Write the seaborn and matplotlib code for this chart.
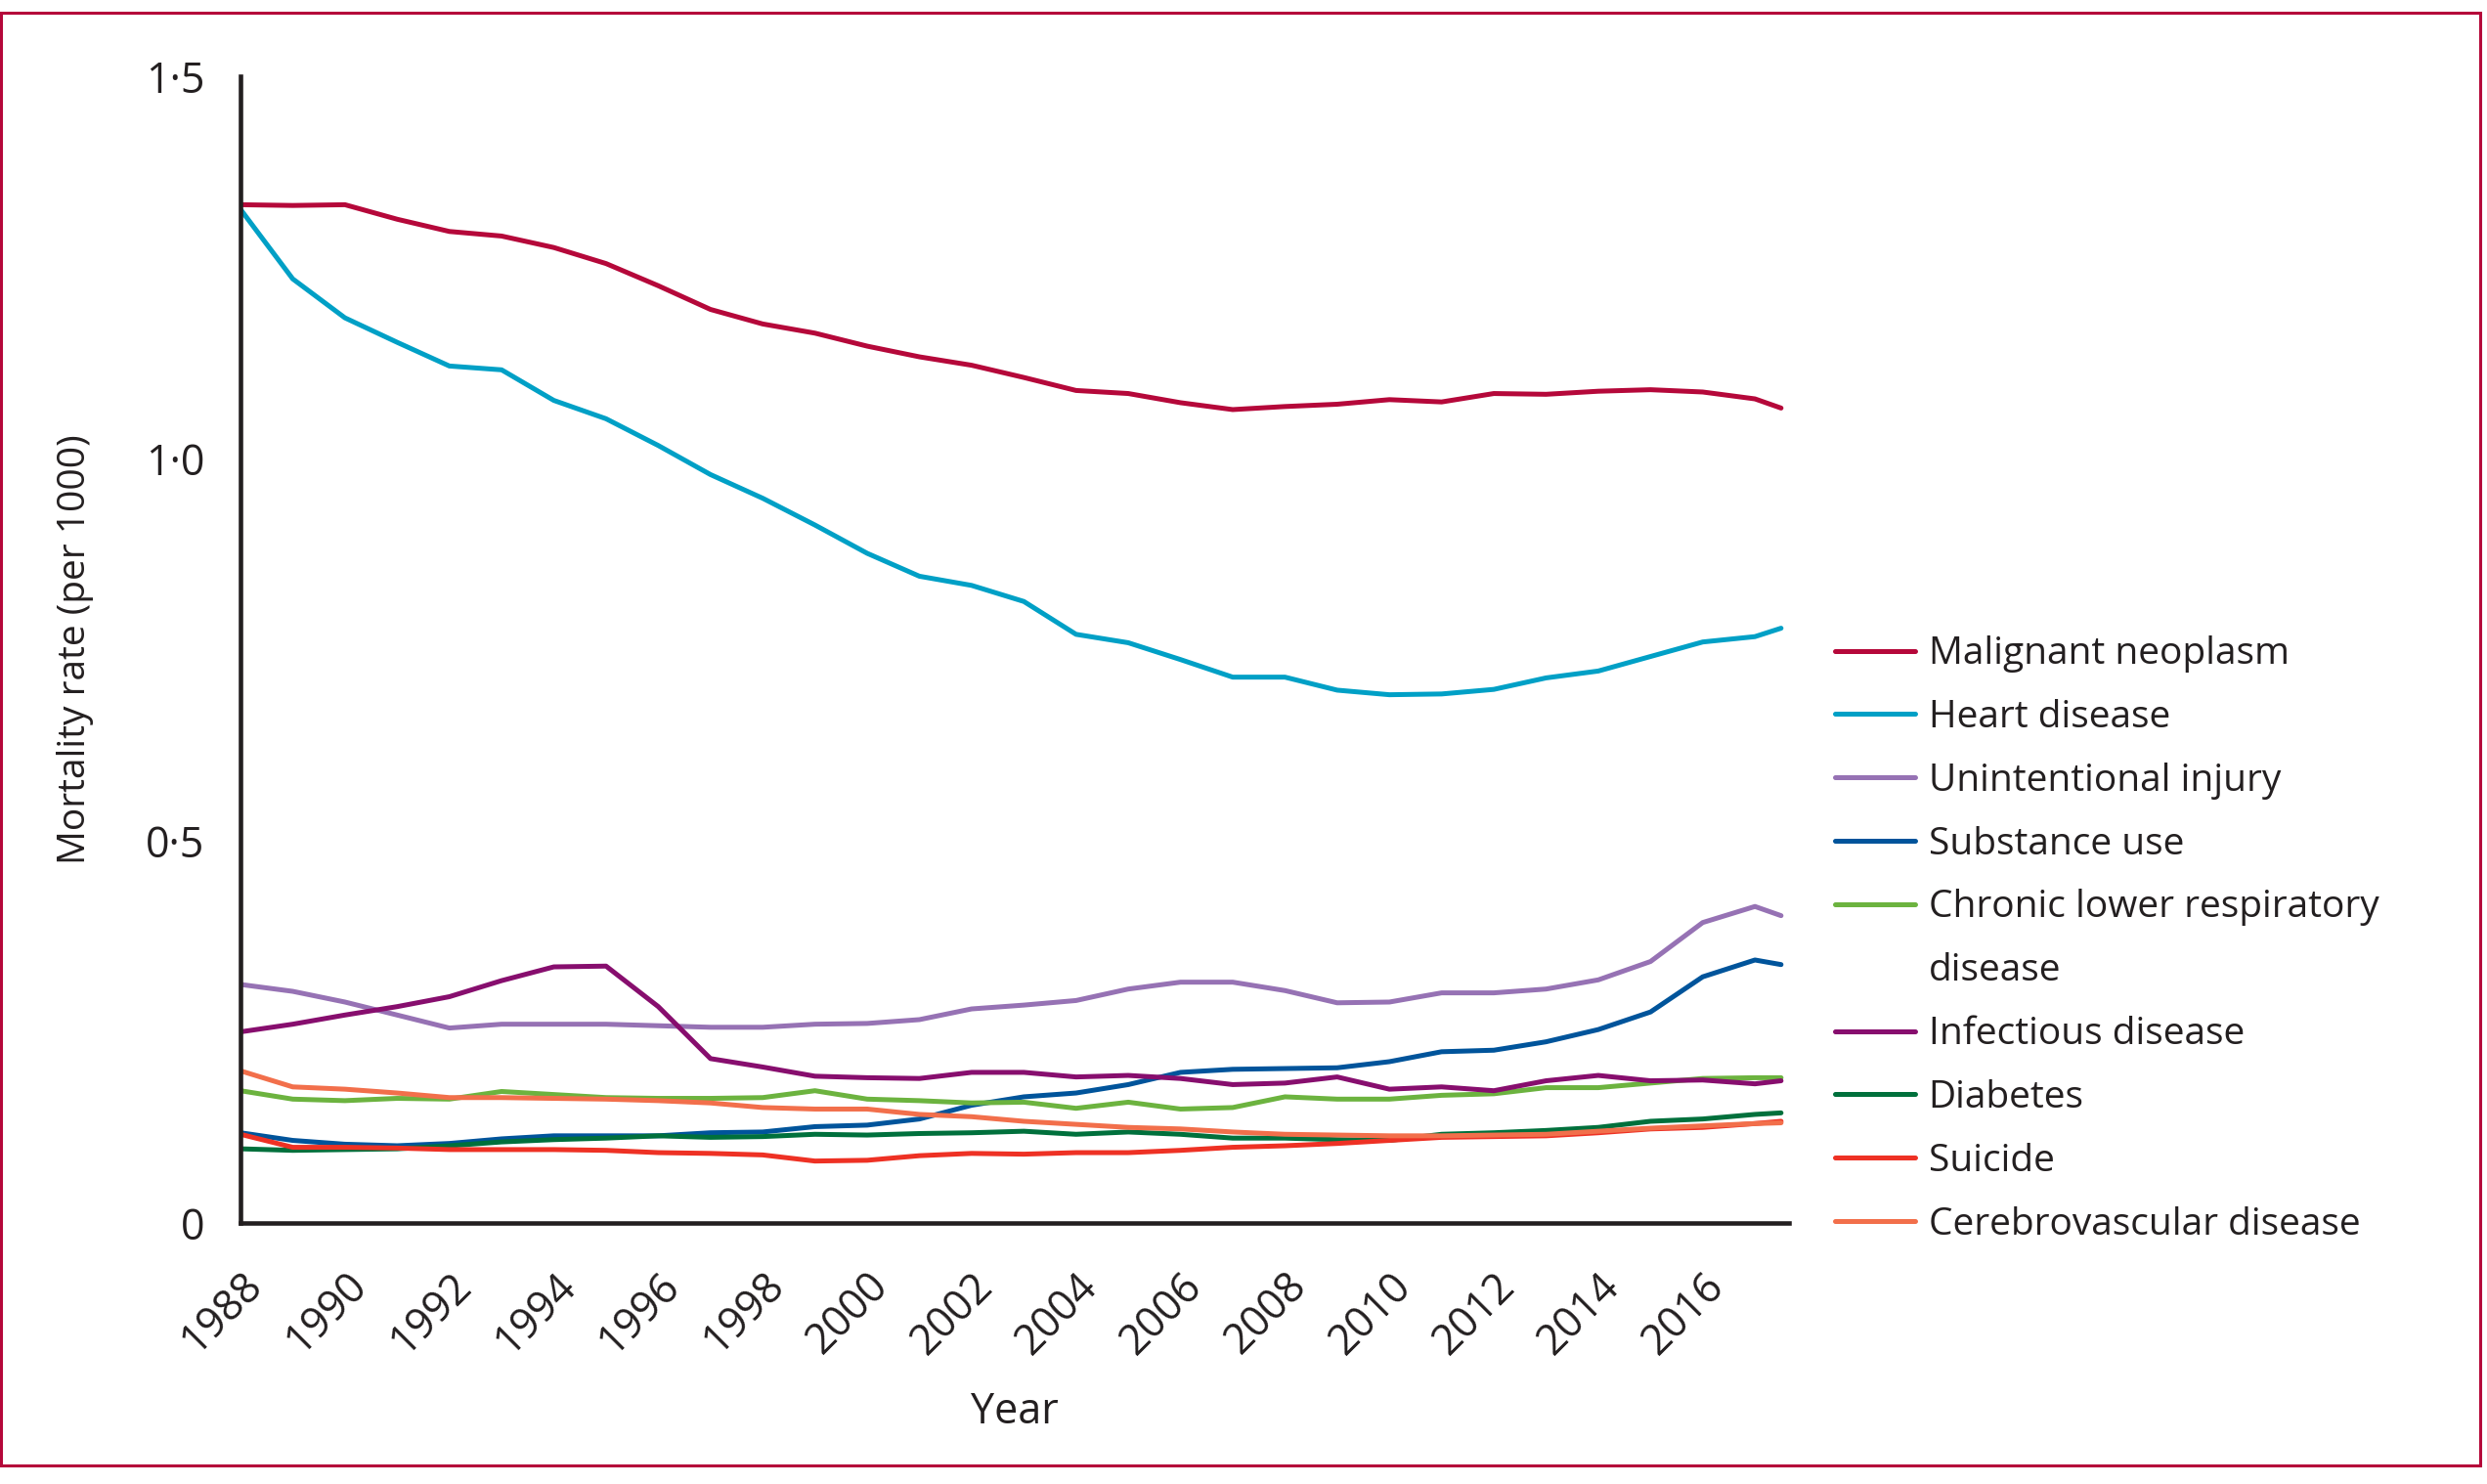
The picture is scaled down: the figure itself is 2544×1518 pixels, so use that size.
import numpy as np
import pandas as pd
import seaborn as sns
import matplotlib.pyplot as plt
from matplotlib.lines import Line2D
from matplotlib.patches import Rectangle

# Jahre (letzter Punkt liegt in der Grafik eine halbe Einheit nach 2017)
years = list(range(1988, 2018)) + [2017.5]

causes = ["Malignant neoplasm", "Heart disease", "Unintentional injury", "Substance use",
          "Chronic lower respiratory disease", "Infectious disease", "Diabetes", "Suicide",
          "Cerebrovascular disease"]
colors = ["#B5083A", "#00A0C6", "#9672B4", "#00549B", "#6CB33F", "#870E6E", "#00703C",
          "#EE3124", "#F26F4B"]

malignant = [1.332, 1.331, 1.332, 1.313, 1.297, 1.291, 1.276, 1.255, 1.226, 1.195,
             1.176, 1.164, 1.147, 1.133, 1.122, 1.106, 1.089, 1.085, 1.073, 1.064,
             1.068, 1.071, 1.077, 1.074, 1.085, 1.084, 1.088, 1.090, 1.087, 1.078, 1.066]
heart = [1.326, 1.235, 1.184, 1.152, 1.121, 1.116, 1.076, 1.052, 1.017, 0.979,
         0.948, 0.913, 0.876, 0.846, 0.834, 0.813, 0.770, 0.759, 0.737, 0.714,
         0.714, 0.697, 0.691, 0.692, 0.698, 0.713, 0.722, 0.741, 0.760, 0.767, 0.778]
injury = [0.312, 0.303, 0.289, 0.272, 0.255, 0.260, 0.260, 0.260, 0.258, 0.256,
          0.256, 0.260, 0.261, 0.266, 0.280, 0.285, 0.291, 0.306, 0.315, 0.315,
          0.304, 0.288, 0.289, 0.301, 0.301, 0.306, 0.318, 0.342, 0.393, 0.414, 0.402]
substance = [0.118, 0.108, 0.103, 0.101, 0.104, 0.110, 0.114, 0.114, 0.114, 0.118,
             0.119, 0.126, 0.128, 0.136, 0.154, 0.165, 0.170, 0.181, 0.197, 0.201,
             0.202, 0.203, 0.211, 0.224, 0.226, 0.237, 0.253, 0.276, 0.322, 0.344, 0.338]
chronic = [0.173, 0.162, 0.160, 0.163, 0.162, 0.172, 0.168, 0.164, 0.163, 0.163,
           0.164, 0.173, 0.162, 0.160, 0.157, 0.158, 0.150, 0.158, 0.149, 0.151,
           0.165, 0.162, 0.162, 0.167, 0.169, 0.177, 0.177, 0.183, 0.189, 0.190, 0.190]
infectious = [0.250, 0.260, 0.272, 0.283, 0.296, 0.317, 0.335, 0.336, 0.283, 0.215,
              0.204, 0.192, 0.190, 0.189, 0.197, 0.197, 0.191, 0.193, 0.189, 0.181,
              0.183, 0.191, 0.175, 0.178, 0.173, 0.186, 0.193, 0.186, 0.187, 0.182, 0.186]
diabetes = [0.097, 0.095, 0.096, 0.097, 0.101, 0.106, 0.109, 0.111, 0.114, 0.112,
            0.113, 0.116, 0.115, 0.117, 0.118, 0.120, 0.116, 0.119, 0.116, 0.111,
            0.111, 0.109, 0.108, 0.116, 0.118, 0.121, 0.125, 0.133, 0.136, 0.142, 0.144]
suicide = [0.116, 0.099, 0.099, 0.098, 0.096, 0.096, 0.096, 0.095, 0.092, 0.091,
           0.089, 0.081, 0.082, 0.088, 0.091, 0.090, 0.092, 0.092, 0.095, 0.099,
           0.101, 0.104, 0.108, 0.112, 0.113, 0.114, 0.118, 0.123, 0.125, 0.130, 0.133]
cerebro = [0.199, 0.178, 0.175, 0.170, 0.164, 0.164, 0.163, 0.162, 0.160, 0.157,
           0.151, 0.149, 0.149, 0.142, 0.139, 0.133, 0.129, 0.125, 0.123, 0.119,
           0.116, 0.115, 0.114, 0.114, 0.115, 0.116, 0.120, 0.124, 0.127, 0.130, 0.131]

xticks = list(range(1988, 2017, 2))
yticks = [0, 0.5, 1.0, 1.5]
ytick_labels = ["0", "0·5", "1·0", "1·5"]

series = [malignant, heart, injury, substance, chronic, infectious, diabetes, suicide, cerebro]
df = pd.DataFrame({
    "Year": years * len(causes),
    "Cause": np.repeat(causes, len(years)),
    "Rate": np.concatenate(series),
})

ink = "#231F20"
sns.set_style("white")
plt.rcParams['font.family'] = ['Open Sans', 'DejaVu Sans']

fig = plt.figure(figsize=(25.44, 15.18), dpi=100)
ax = fig.add_axes([0.0967, 0.1759, 0.6226, 0.7727])

sns.lineplot(data=df, x="Year", y="Rate", hue="Cause", hue_order=causes,
             palette=dict(zip(causes, colors)), linewidth=3.6, ax=ax)

ax.set_xlim(1988, 2017.65)
ax.set_ylim(0, 1.5)
ax.set_xticks(xticks)
ax.set_xticklabels([str(y) for y in xticks], rotation=45, ha="right", rotation_mode="anchor")
ax.set_yticks(yticks)
ax.set_yticklabels(ytick_labels)

for s in ["top", "right"]:
    ax.spines[s].set_visible(False)
for s in ["left", "bottom"]:
    ax.spines[s].set_linewidth(3.3)
    ax.spines[s].set_color(ink)

ax.tick_params(axis="both", length=18.5, width=3.3, color=ink, labelcolor=ink, labelsize=31)
ax.tick_params(axis="y", pad=8)
ax.tick_params(axis="x", pad=12)

ax.set_xlabel("Year", fontsize=31, color=ink)
ax.xaxis.set_label_coords(0.5, -0.146)
ax.set_ylabel("Mortality rate (per 1000)", fontsize=28, color=ink)
ax.yaxis.set_label_coords(-0.095, 0.5)

# Legende: Zeilenumbruch wie im Original, zweite Zeile ohne Linie
handles, labels = ax.get_legend_handles_labels()
for h in handles:
    h.set_linewidth(3.6)
new_h, new_l = [], []
for h, l in zip(handles, labels):
    if l == "Chronic lower respiratory disease":
        new_h += [h, Line2D([], [], color="none")]
        new_l += ["Chronic lower respiratory", "disease"]
    else:
        new_h.append(h)
        new_l.append(l)
leg = ax.legend(new_h, new_l, loc="center left", bbox_to_anchor=(0.738, 0.367),
                bbox_transform=fig.transFigure, frameon=False, fontsize=28,
                handlelength=2.1, handletextpad=0.35, labelspacing=0.69,
                borderpad=0, borderaxespad=0)
for t in leg.get_texts():
    t.set_color(ink)

fig.add_artist(Rectangle((0.0004, 1 - 1499 / 1518), 2536 / 2544, 1486 / 1518,
                         transform=fig.transFigure, fill=False,
                         edgecolor="#B5083A", linewidth=2.2))

fig.savefig("out.png", dpi=100)
